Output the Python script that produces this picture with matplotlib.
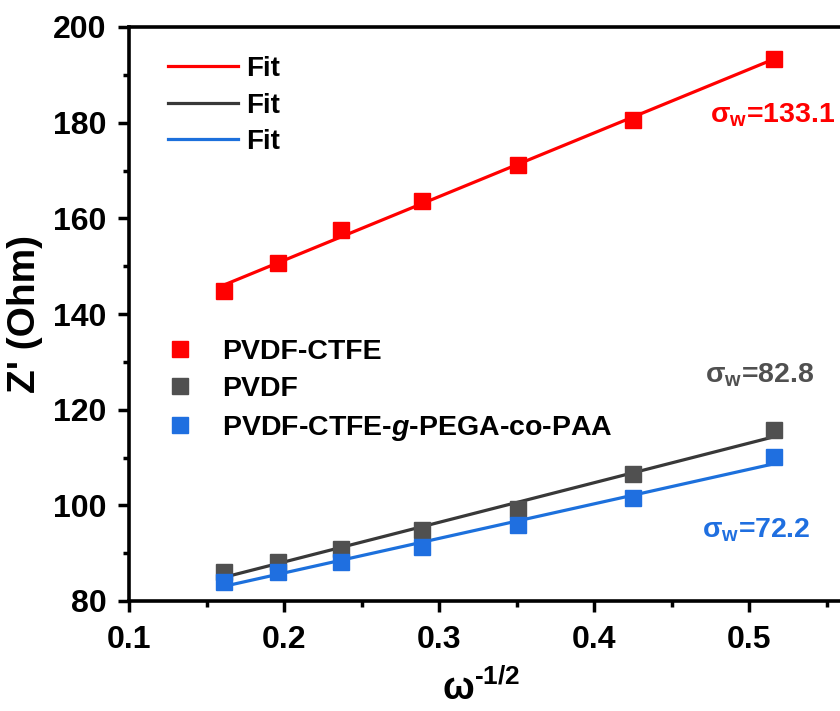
import numpy as np
import matplotlib
matplotlib.use("Agg")
import matplotlib.pyplot as plt
from matplotlib.ticker import MultipleLocator

plt.rcParams['font.family'] = ['Liberation Sans', 'DejaVu Sans']
plt.rcParams['font.weight'] = 'bold'
plt.rcParams['mathtext.fontset'] = 'custom'
plt.rcParams['mathtext.rm'] = 'Liberation Sans:bold'
plt.rcParams['mathtext.bf'] = 'Liberation Sans:bold'
plt.rcParams['mathtext.it'] = 'Liberation Sans:bold:italic'

# omega^-1/2 for each measured frequency
x = [0.161, 0.196, 0.237, 0.289, 0.351, 0.425, 0.516]

# Z' (Ohm) for each membrane
z_ctfe = [144.9, 150.6, 157.6, 163.6, 171.1, 180.5, 193.4]
z_pvdf = [86.0, 88.1, 90.8, 94.8, 99.3, 106.5, 115.8]
z_graft = [84.0, 86.0, 88.2, 91.2, 95.8, 101.6, 110.2]

# Warburg coefficients (slopes of the linear fits)
sigma = [133.1, 82.8, 72.2]

names = ['PVDF-CTFE', 'PVDF', r'PVDF-CTFE-$\mathit{g}$-PEGA-co-PAA']
marker_colors = ['#ff0000', '#505050', '#1f6fe0']
line_colors = ['#ff0000', '#383838', '#1c70dc']

xticks = [0.1, 0.2, 0.3, 0.4, 0.5]

# where the sigma_w labels sit (data coords, text baseline)
label_x = [0.4748, 0.4716, 0.4697]
label_y = [180.1, 125.6, 93.2]

fig = plt.figure(figsize=(8.4, 7.11), dpi=100)
ax = fig.add_axes([129 / 840, 110 / 711, 775 / 840, 574 / 711])

xs = np.array(x)
fit_lines = []
points = []
for zs, s, mc, lc, name in zip([z_ctfe, z_pvdf, z_graft], sigma, marker_colors, line_colors, names):
    zs = np.array(zs)
    # straight line with the Warburg slope through the centroid of the points
    b = zs.mean() - s * xs.mean()
    xf = np.array([xs[0], xs[-1]])
    p, = ax.plot(xs, zs, 's', color=mc, ms=11, mec=mc, label=name, zorder=3)
    l, = ax.plot(xf, b + s * xf, '-', color=lc, lw=2.3, label='Fit', zorder=2)
    points.append(p)
    fit_lines.append(l)

ax.set_xlim(0.1, 0.6)
ax.set_ylim(80, 200)
ax.set_xticks(xticks)
ax.xaxis.set_minor_locator(MultipleLocator(0.05))
ax.yaxis.set_major_locator(MultipleLocator(20))
ax.yaxis.set_minor_locator(MultipleLocator(10))
ax.tick_params(which='major', direction='out', length=8, width=2.5, labelsize=23, pad=8)
ax.tick_params(which='minor', direction='out', length=4.5, width=2.5)
ax.tick_params(axis='x', which='major', pad=9)
for sp in ax.spines.values():
    sp.set_linewidth(2.6)

ax.set_ylabel("Z' (Ohm)", fontsize=28, fontweight='bold')
ax.yaxis.set_label_coords(-0.111, 0.5)
ax.set_xlabel(r'ω$^{\text{-}1/2}$', fontsize=27, fontweight='bold')
ax.xaxis.set_label_coords(0.454, -0.12)

# sigma_w annotations
for lx, ly, s, c in zip(label_x, label_y, sigma, marker_colors):
    ax.text(lx, ly, r'σ$_\mathbf{w}$=' + f'{s:.1f}', color=c, fontsize=20.5, va='baseline')

leg1 = ax.legend(handles=fit_lines, loc='upper left', frameon=False, fontsize=20,
                 bbox_to_anchor=(168 / 840, 1 - 56 / 711), bbox_transform=fig.transFigure,
                 borderpad=0, borderaxespad=0, handlelength=2.52, handletextpad=0.29,
                 labelspacing=0.38)
ax.add_artist(leg1)
ax.legend(handles=points, loc='upper left', frameon=False, fontsize=20.5,
          bbox_to_anchor=(166 / 840, 1 - 339 / 711), bbox_transform=fig.transFigure,
          borderpad=0, borderaxespad=0, handlelength=1.0, handletextpad=0.96,
          labelspacing=0.4)

fig.savefig('out.png', dpi=100)
